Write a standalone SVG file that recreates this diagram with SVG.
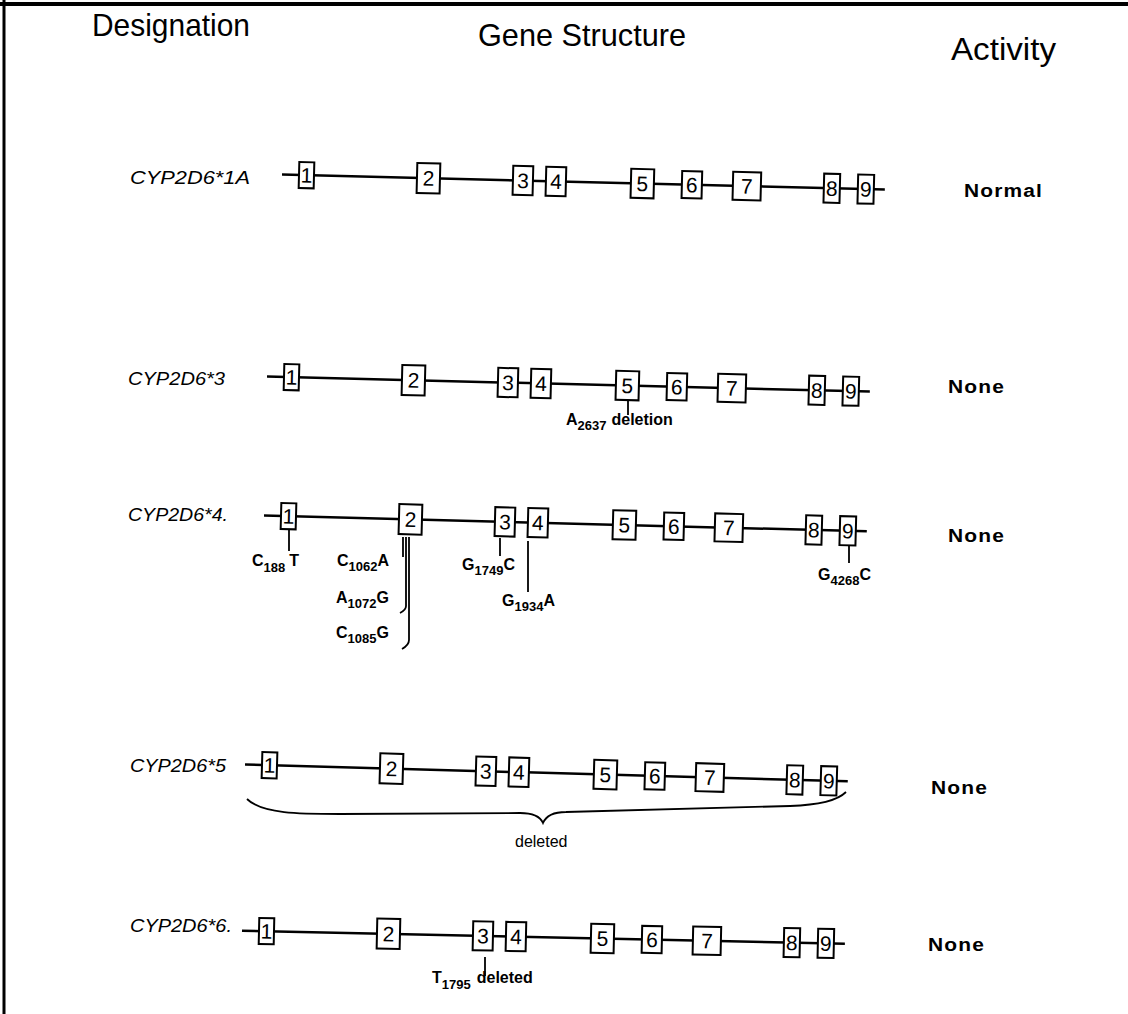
<svg xmlns="http://www.w3.org/2000/svg" width="1128" height="1014" viewBox="0 0 1128 1014">
<style>
text{font-family:"Liberation Sans",Arial,sans-serif;fill:#000}
.hd{font-size:32px}
.des{font-size:19px;font-style:italic}
.act{font-size:18px;font-weight:bold;letter-spacing:1px}
.ex rect{fill:#fff;stroke:#000;stroke-width:2}
.ex text{font-size:21px;text-anchor:middle}
.gl{stroke:#000;stroke-width:2.5;fill:none}
.tk{stroke:#000;stroke-width:1.8;fill:none}
.an{font-size:16px;font-weight:bold}
.sb{font-size:13px;font-weight:bold}
</style>
<rect x="0" y="0" width="1128" height="1014" fill="#fff"/>
<g id="frame">
<line x1="0" y1="4" x2="1128" y2="4" stroke="#000" stroke-width="4"/>
<line x1="4" y1="0" x2="4" y2="1014" stroke="#000" stroke-width="3"/>
</g>
<g id="headers">
<text class="hd" x="92" y="36" textLength="158" lengthAdjust="spacingAndGlyphs">Designation</text>
<text class="hd" x="478" y="46" textLength="208" lengthAdjust="spacingAndGlyphs">Gene Structure</text>
<text class="hd" x="951" y="60" textLength="105" lengthAdjust="spacingAndGlyphs">Activity</text>
</g>
<g id="designations">
<text class="des" x="130" y="184" textLength="120" lengthAdjust="spacingAndGlyphs">CYP2D6*1A</text>
<text class="des" x="128" y="385" textLength="97" lengthAdjust="spacingAndGlyphs">CYP2D6*3</text>
<text class="des" x="128" y="521" textLength="100" lengthAdjust="spacingAndGlyphs">CYP2D6*4.</text>
<text class="des" x="130" y="772" textLength="96" lengthAdjust="spacingAndGlyphs">CYP2D6*5</text>
<text class="des" x="130" y="932" textLength="102" lengthAdjust="spacingAndGlyphs">CYP2D6*6.</text>
</g>
<g id="activities">
<text class="act" x="964" y="197" textLength="79" lengthAdjust="spacingAndGlyphs">Normal</text>
<text class="act" x="948" y="393" textLength="57" lengthAdjust="spacingAndGlyphs">None</text>
<text class="act" x="948" y="542" textLength="57" lengthAdjust="spacingAndGlyphs">None</text>
<text class="act" x="931" y="794" textLength="57" lengthAdjust="spacingAndGlyphs">None</text>
<text class="act" x="928" y="951" textLength="57" lengthAdjust="spacingAndGlyphs">None</text>
</g>

<g id="gene-1A" transform="translate(299,175) rotate(1.43)">
<line class="gl" x1="-17" y1="0" x2="586" y2="0"/>
<g id="g1A-e1" class="ex"><rect x="0" y="-13" width="15" height="26"/><text x="7.5" y="7.5">1</text></g>
<g id="g1A-e2" class="ex"><rect x="118" y="-15" width="23" height="30"/><text x="129.5" y="7.5">2</text></g>
<g id="g1A-e3" class="ex"><rect x="214" y="-14.5" width="20" height="29"/><text x="224" y="7.5">3</text></g>
<g id="g1A-e4" class="ex"><rect x="247" y="-14.5" width="20" height="29"/><text x="257" y="7.5">4</text></g>
<g id="g1A-e5" class="ex"><rect x="332" y="-14.5" width="23" height="29"/><text x="343.5" y="7.5">5</text></g>
<g id="g1A-e6" class="ex"><rect x="383" y="-13.5" width="20" height="27"/><text x="393" y="7.5">6</text></g>
<g id="g1A-e7" class="ex"><rect x="434" y="-14" width="28" height="28"/><text x="448" y="7.5">7</text></g>
<g id="g1A-e8" class="ex"><rect x="525" y="-14.5" width="16" height="29"/><text x="533" y="7.5">8</text></g>
<g id="g1A-e9" class="ex"><rect x="559" y="-14.5" width="16" height="29"/><text x="567" y="7.5">9</text></g>
</g>

<g id="gene-3" transform="translate(284,377) rotate(1.43)">
<line class="gl" x1="-17" y1="0" x2="586" y2="0"/>
<g id="g3-e1" class="ex"><rect x="0" y="-13" width="15" height="26"/><text x="7.5" y="7.5">1</text></g>
<g id="g3-e2" class="ex"><rect x="118" y="-15" width="23" height="30"/><text x="129.5" y="7.5">2</text></g>
<g id="g3-e3" class="ex"><rect x="214" y="-14.5" width="20" height="29"/><text x="224" y="7.5">3</text></g>
<g id="g3-e4" class="ex"><rect x="247" y="-14.5" width="20" height="29"/><text x="257" y="7.5">4</text></g>
<g id="g3-e5" class="ex"><rect x="332" y="-14.5" width="23" height="29"/><text x="343.5" y="7.5">5</text></g>
<g id="g3-e6" class="ex"><rect x="383" y="-13.5" width="20" height="27"/><text x="393" y="7.5">6</text></g>
<g id="g3-e7" class="ex"><rect x="434" y="-14" width="28" height="28"/><text x="448" y="7.5">7</text></g>
<g id="g3-e8" class="ex"><rect x="525" y="-14.5" width="16" height="29"/><text x="533" y="7.5">8</text></g>
<g id="g3-e9" class="ex"><rect x="559" y="-14.5" width="16" height="29"/><text x="567" y="7.5">9</text></g>
</g>

<g id="gene-4" transform="translate(281,516) rotate(1.5)">
<line class="gl" x1="-17" y1="0" x2="586" y2="0"/>
<g id="g4-e1" class="ex"><rect x="0" y="-13" width="15" height="26"/><text x="7.5" y="7.5">1</text></g>
<g id="g4-e2" class="ex"><rect x="118" y="-15" width="23" height="30"/><text x="129.5" y="7.5">2</text></g>
<g id="g4-e3" class="ex"><rect x="214" y="-14.5" width="20" height="29"/><text x="224" y="7.5">3</text></g>
<g id="g4-e4" class="ex"><rect x="247" y="-14.5" width="20" height="29"/><text x="257" y="7.5">4</text></g>
<g id="g4-e5" class="ex"><rect x="332" y="-14.5" width="23" height="29"/><text x="343.5" y="7.5">5</text></g>
<g id="g4-e6" class="ex"><rect x="383" y="-13.5" width="20" height="27"/><text x="393" y="7.5">6</text></g>
<g id="g4-e7" class="ex"><rect x="434" y="-14" width="28" height="28"/><text x="448" y="7.5">7</text></g>
<g id="g4-e8" class="ex"><rect x="525" y="-14.5" width="16" height="29"/><text x="533" y="7.5">8</text></g>
<g id="g4-e9" class="ex"><rect x="559" y="-14.5" width="16" height="29"/><text x="567" y="7.5">9</text></g>
</g>

<g id="gene-5" transform="translate(262,765) rotate(1.6)">
<line class="gl" x1="-17" y1="0" x2="586" y2="0"/>
<g id="g5-e1" class="ex"><rect x="0" y="-13" width="15" height="26"/><text x="7.5" y="7.5">1</text></g>
<g id="g5-e2" class="ex"><rect x="118" y="-15" width="23" height="30"/><text x="129.5" y="7.5">2</text></g>
<g id="g5-e3" class="ex"><rect x="214" y="-14.5" width="20" height="29"/><text x="224" y="7.5">3</text></g>
<g id="g5-e4" class="ex"><rect x="247" y="-14.5" width="20" height="29"/><text x="257" y="7.5">4</text></g>
<g id="g5-e5" class="ex"><rect x="332" y="-14.5" width="23" height="29"/><text x="343.5" y="7.5">5</text></g>
<g id="g5-e6" class="ex"><rect x="383" y="-13.5" width="20" height="27"/><text x="393" y="7.5">6</text></g>
<g id="g5-e7" class="ex"><rect x="434" y="-14" width="28" height="28"/><text x="448" y="7.5">7</text></g>
<g id="g5-e8" class="ex"><rect x="525" y="-14.5" width="16" height="29"/><text x="533" y="7.5">8</text></g>
<g id="g5-e9" class="ex"><rect x="559" y="-14.5" width="16" height="29"/><text x="567" y="7.5">9</text></g>
</g>

<g id="gene-6" transform="translate(259,931) rotate(1.25)">
<line class="gl" x1="-17" y1="0" x2="586" y2="0"/>
<g id="g6-e1" class="ex"><rect x="0" y="-13" width="15" height="26"/><text x="7.5" y="7.5">1</text></g>
<g id="g6-e2" class="ex"><rect x="118" y="-15" width="23" height="30"/><text x="129.5" y="7.5">2</text></g>
<g id="g6-e3" class="ex"><rect x="214" y="-14.5" width="20" height="29"/><text x="224" y="7.5">3</text></g>
<g id="g6-e4" class="ex"><rect x="247" y="-14.5" width="20" height="29"/><text x="257" y="7.5">4</text></g>
<g id="g6-e5" class="ex"><rect x="332" y="-14.5" width="23" height="29"/><text x="343.5" y="7.5">5</text></g>
<g id="g6-e6" class="ex"><rect x="383" y="-13.5" width="20" height="27"/><text x="393" y="7.5">6</text></g>
<g id="g6-e7" class="ex"><rect x="434" y="-14" width="28" height="28"/><text x="448" y="7.5">7</text></g>
<g id="g6-e8" class="ex"><rect x="525" y="-14.5" width="16" height="29"/><text x="533" y="7.5">8</text></g>
<g id="g6-e9" class="ex"><rect x="559" y="-14.5" width="16" height="29"/><text x="567" y="7.5">9</text></g>
</g>

<g id="connectors">
<line class="tk" x1="628" y1="400" x2="628" y2="415"/>
<line class="tk" x1="289" y1="530" x2="289" y2="551"/>
<line class="tk" x1="403" y1="537" x2="403" y2="557"/>
<path class="tk" d="M406,537 V606 Q406,610 400,613"/>
<path class="tk" d="M409,537 V640 Q409,645 402,649"/>
<line class="tk" x1="500" y1="538" x2="500" y2="556"/>
<line class="tk" x1="528" y1="541" x2="528" y2="592"/>
<line class="tk" x1="849" y1="545" x2="849" y2="563"/>
<path class="tk" d="M247,799 C262,814 300,814 340,814 L520,813 C533,813 540,816 543,823 C546,816 553,812 566,812 L790,806 C822,805 838,800 846,792"/>
<line class="tk" x1="485" y1="957" x2="485" y2="976"/>
</g>

<g id="annotations">
<text x="566" y="425"><tspan class="an">A</tspan><tspan class="sb" dy="5">2637</tspan><tspan class="an" dy="-5" dx="5">deletion</tspan></text>
<text x="252" y="566"><tspan class="an">C</tspan><tspan class="sb" dy="6">188</tspan><tspan class="an" dy="-6" dx="4">T</tspan></text>
<text x="337" y="566"><tspan class="an">C</tspan><tspan class="sb" dy="5">1062</tspan><tspan class="an" dy="-5">A</tspan></text>
<text x="336" y="603"><tspan class="an">A</tspan><tspan class="sb" dy="5">1072</tspan><tspan class="an" dy="-5">G</tspan></text>
<text x="336" y="638"><tspan class="an">C</tspan><tspan class="sb" dy="5">1085</tspan><tspan class="an" dy="-5">G</tspan></text>
<text x="462" y="570"><tspan class="an">G</tspan><tspan class="sb" dy="5">1749</tspan><tspan class="an" dy="-5">C</tspan></text>
<text x="502" y="606"><tspan class="an">G</tspan><tspan class="sb" dy="5">1934</tspan><tspan class="an" dy="-5">A</tspan></text>
<text x="818" y="580"><tspan class="an">G</tspan><tspan class="sb" dy="5">4268</tspan><tspan class="an" dy="-5">C</tspan></text>
<text x="515" y="847" style="font-size:16px">deleted</text>
<text x="432" y="983"><tspan class="an">T</tspan><tspan class="sb" dy="6">1795</tspan><tspan class="an" dy="-6" dx="6">deleted</tspan></text>
</g>
</svg>
